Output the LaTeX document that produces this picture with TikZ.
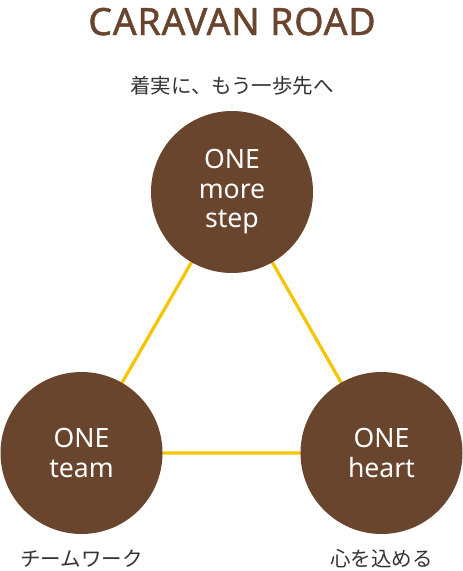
\documentclass[tikz,border=0pt]{standalone}
\usepackage{fontspec}
\setmainfont{Noto Sans}
\newfontfamily\jpfont{Noto Sans CJK JP}
\newfontfamily\titlefont[FakeBold=1.3, LetterSpace=2]{Noto Sans}
\usepackage{xcolor}
\usetikzlibrary{backgrounds}
\definecolor{roadbrown}{HTML}{6A452E}
\definecolor{roadyellow}{HTML}{F5C600}
\definecolor{roadgray}{HTML}{333333}
\tikzset{
  ball/.style={circle, fill=roadbrown, minimum size=162pt, inner sep=0pt, text=white,
    align=center, font=\fontsize{26.6}{29.5}\selectfont},
  jplabel/.style={anchor=base, inner sep=0pt, text=roadgray, font=\jpfont\fontsize{20.5}{24}\selectfont},
  link/.style={roadyellow, line width=3.2pt}
}
\begin{document}
\begin{tikzpicture}[x=1pt, y=-1pt]
\useasboundingbox (0,0) rectangle (463,571);
\node[anchor=base, inner sep=0pt, text=roadbrown, font=\titlefont\fontsize{37.5}{40}\selectfont] (title) at (232,35) {CARAVAN ROAD};
\node[jplabel] (steptext) at (232,93.5) {着実に、もう一歩先へ};
\node[ball] (step) at (232,192) {ONE\\more\\step};
\node[ball] (team) at (81.5,453) {ONE\\team};
\node[ball] (heart) at (381.5,453) {ONE\\heart};
\node[jplabel] (teamtext) at (81.5,566) {チームワーク};
\node[jplabel] (hearttext) at (381.5,566) {心を込める};
\begin{scope}[on background layer]
\draw[link] (step.center) -- (team.center) -- (heart.center) -- cycle;
\end{scope}
\end{tikzpicture}
\end{document}
